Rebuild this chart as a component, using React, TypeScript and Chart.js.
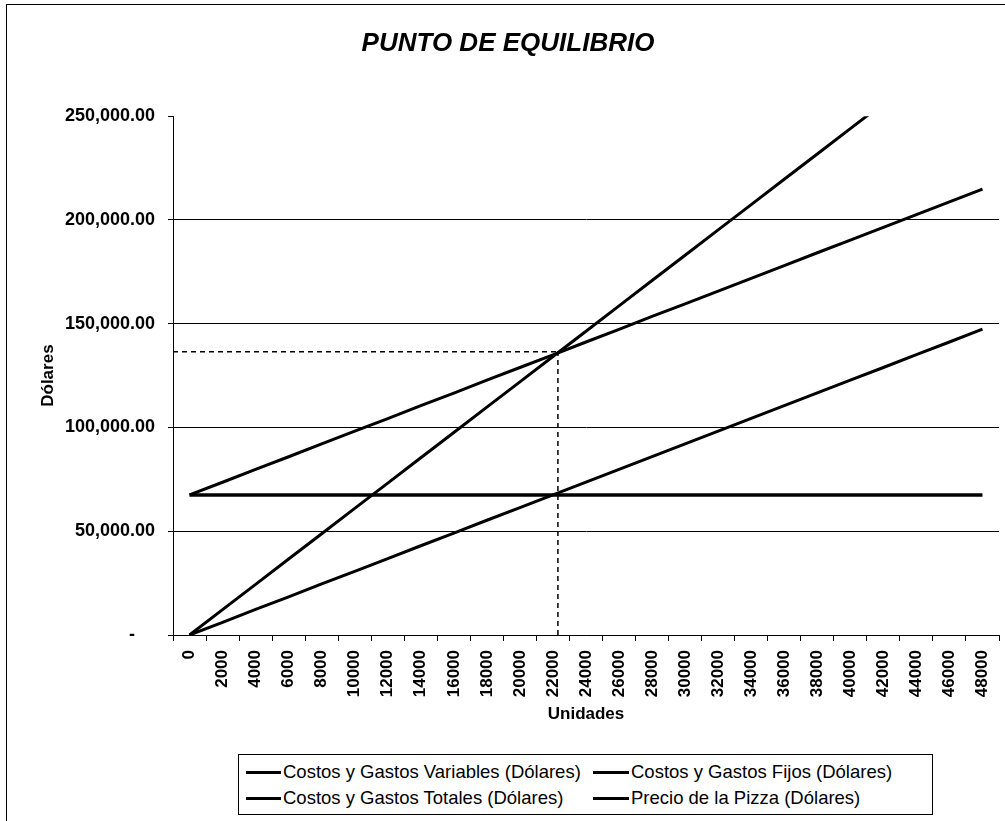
import React, { useEffect, useRef } from "react";
import { Chart, registerables } from "chart.js";

Chart.register(...registerables);

const FONT = "'Liberation Sans', Arial, sans-serif";

const UNIT_LABELS = [
  "0", "2000", "4000", "6000", "8000", "10000", "12000", "14000", "16000",
  "18000", "20000", "22000", "24000", "26000", "28000", "30000", "32000",
  "34000", "36000", "38000", "40000", "42000", "44000", "46000", "48000",
];
const UNITS = [
  0, 2000, 4000, 6000, 8000, 10000, 12000, 14000, 16000, 18000, 20000, 22000,
  24000, 26000, 28000, 30000, 32000, 34000, 36000, 38000, 40000, 42000, 44000,
  46000, 48000,
];

const VARIABLE_COSTS = [
  0, 6100, 12300, 18400, 24600, 30700, 36800, 43000, 49100, 55300, 61400,
  67500, 73700, 79800, 86000, 92100, 98200, 104400, 110500, 116700, 122800,
  128900, 135100, 141200, 147400,
];
const FIXED_COSTS = [
  67500, 67500, 67500, 67500, 67500, 67500, 67500, 67500, 67500, 67500, 67500,
  67500, 67500, 67500, 67500, 67500, 67500, 67500, 67500, 67500, 67500, 67500,
  67500, 67500, 67500,
];
const TOTAL_COSTS = [
  67500, 73600, 79800, 85900, 92100, 98200, 104300, 110500, 116600, 122800,
  128900, 135000, 141200, 147300, 153500, 159600, 165700, 171900, 178000,
  184200, 190300, 196400, 202600, 208700, 214900,
];
const REVENUE = [
  0, 12200, 24400, 36600, 48800, 61000, 73200, 85400, 97600, 109800, 122000,
  134200, 146400, 158600, 170800, 183000, 195200, 207400, 219600, 231800,
  244000, 256200, 268400, 280600, 292800,
];

const SERIES_NAMES = [
  "Costos y Gastos Variables (Dólares)",
  "Costos y Gastos Fijos (Dólares)",
  "Costos y Gastos Totales (Dólares)",
  "Precio de la Pizza (Dólares)",
];

const BREAKEVEN_UNITS = 22300;
const BREAKEVEN_DOLLARS = 136500;
const X_MIN_UNITS = -1000;
const X_MAX_UNITS = 49000;
const Y_MAX = 250000;
const Y_STEP = 50000;

const toPoints = (vals: number[]) => UNITS.map((u, i) => ({ x: u, y: vals[i] }));

export default function App() {
  const ref = useRef<HTMLCanvasElement>(null);

  useEffect(() => {
    document.body.style.margin = "0";
    const seriesVals = [VARIABLE_COSTS, FIXED_COSTS, TOTAL_COSTS, REVENUE];
    const datasets: any[] = seriesVals.map((vals, i) => ({
      label: SERIES_NAMES[i],
      data: toPoints(vals),
      xAxisID: "xu",
      borderColor: "#000",
      backgroundColor: "#000",
      borderWidth: i === 1 ? 3.5 : 3,
      pointRadius: 0,
      tension: 0,
      fill: false,
    }));
    datasets.push({
      label: "guia-h",
      data: [
        { x: X_MIN_UNITS, y: BREAKEVEN_DOLLARS },
        { x: BREAKEVEN_UNITS, y: BREAKEVEN_DOLLARS },
      ],
      xAxisID: "xu",
      borderColor: "#000",
      borderWidth: 1.5,
      borderDash: [5, 4],
      pointRadius: 0,
      fill: false,
    });
    datasets.push({
      label: "guia-v",
      data: [
        { x: BREAKEVEN_UNITS, y: 0 },
        { x: BREAKEVEN_UNITS, y: BREAKEVEN_DOLLARS },
      ],
      xAxisID: "xu",
      borderColor: "#000",
      borderWidth: 1.5,
      borderDash: [5, 4],
      pointRadius: 0,
      fill: false,
    });

    const chart = new Chart(ref.current!, {
      type: "line",
      data: { labels: UNIT_LABELS, datasets },
      options: {
        responsive: false,
        animation: false,
        layout: { padding: { left: 17, right: 6, top: 0, bottom: 86 } },
        plugins: {
          legend: { display: false },
          tooltip: { enabled: false },
          title: {
            display: true,
            text: "PUNTO DE EQUILIBRIO",
            color: "#000",
            font: { family: FONT, size: 26, weight: "bold", style: "italic", lineHeight: 1.2 },
            padding: { top: 28, bottom: 57 },
          },
        },
        scales: {
          x: {
            type: "category",
            position: "bottom",
            offset: true,
            grid: {
              offset: true,
              drawOnChartArea: false,
              drawTicks: true,
              tickLength: 6,
              color: "#000",
              tickColor: "#000",
            },
            border: { display: true, color: "#000", width: 1 },
            ticks: {
              autoSkip: false,
              minRotation: 90,
              maxRotation: 90,
              color: "#000",
              padding: 9,
              font: { family: FONT, size: 17, weight: "bold" },
            },
            title: {
              display: true,
              text: "Unidades",
              color: "#000",
              font: { family: FONT, size: 17, weight: "bold", lineHeight: 1.2 },
              padding: { top: 4, bottom: 10 },
            },
            afterFit: (s: any) => {
              s.height = 100;
              s.paddingLeft = 0;
              s.paddingRight = 0;
            },
          },
          xu: {
            type: "linear",
            display: false,
            min: X_MIN_UNITS,
            max: X_MAX_UNITS,
          },
          y: {
            type: "linear",
            min: 0,
            max: Y_MAX,
            ticks: {
              stepSize: Y_STEP,
              color: "#000",
              padding: 13,
              font: { family: FONT, size: 18, weight: "bold" },
              callback: (v: any) =>
                Number(v) === 0
                  ? "-\u2007\u2007"
                  : Number(v).toLocaleString("en-US", {
                      minimumFractionDigits: 2,
                      maximumFractionDigits: 2,
                    }),
            },
            grid: {
              drawTicks: true,
              tickLength: 5,
              tickColor: "#000",
              color: (ctx: any) =>
                ctx.tick && ctx.tick.value === Y_MAX ? "rgba(0,0,0,0)" : "#000",
              lineWidth: 1,
            },
            border: { display: true, color: "#000", width: 1 },
            title: {
              display: true,
              text: "Dólares",
              color: "#000",
              font: { family: FONT, size: 17, weight: "bold", lineHeight: 1.2 },
              padding: { top: 21, bottom: 0 },
            },
            afterFit: (s: any) => {
              s.width = 156;
            },
          },
        },
      } as any,
    });
    return () => chart.destroy();
  }, []);

  const legendRows = [
    [0, 1],
    [2, 3],
  ];
  const colLine = [7, 354];
  const colText = [44, 392];
  const rowCenter = [17, 43];

  return (
    <div
      style={{
        position: "relative",
        width: 1005,
        height: 821,
        background: "#fff",
        overflow: "hidden",
        fontFamily: FONT,
      }}
    >
      <div
        style={{
          position: "absolute",
          left: 6,
          top: 4,
          right: -2,
          bottom: -2,
          borderLeft: "1.5px solid #000",
          borderTop: "1.5px solid #000",
        }}
      />
      <canvas
        ref={ref}
        width={1005}
        height={821}
        style={{ position: "absolute", left: 0, top: 0 }}
      />
      <div
        style={{
          position: "absolute",
          left: 238,
          top: 754,
          width: 695,
          height: 61,
          border: "1px solid #000",
          boxSizing: "border-box",
          background: "#fff",
          color: "#000",
          fontSize: 18.5,
        }}
      >
        {legendRows.map((row, r) =>
          row.map((si, c) => (
            <React.Fragment key={`${r}-${c}`}>
              <div
                style={{
                  position: "absolute",
                  left: colLine[c],
                  top: rowCenter[r] - 1.5,
                  width: colText[c] - colLine[c] - 2,
                  height: 3,
                  background: "#000",
                }}
              />
              <div
                style={{
                  position: "absolute",
                  left: colText[c],
                  top: rowCenter[r] - 11,
                  height: 22,
                  lineHeight: "22px",
                  whiteSpace: "nowrap",
                }}
              >
                {SERIES_NAMES[si]}
              </div>
            </React.Fragment>
          ))
        )}
      </div>
    </div>
  );
}
